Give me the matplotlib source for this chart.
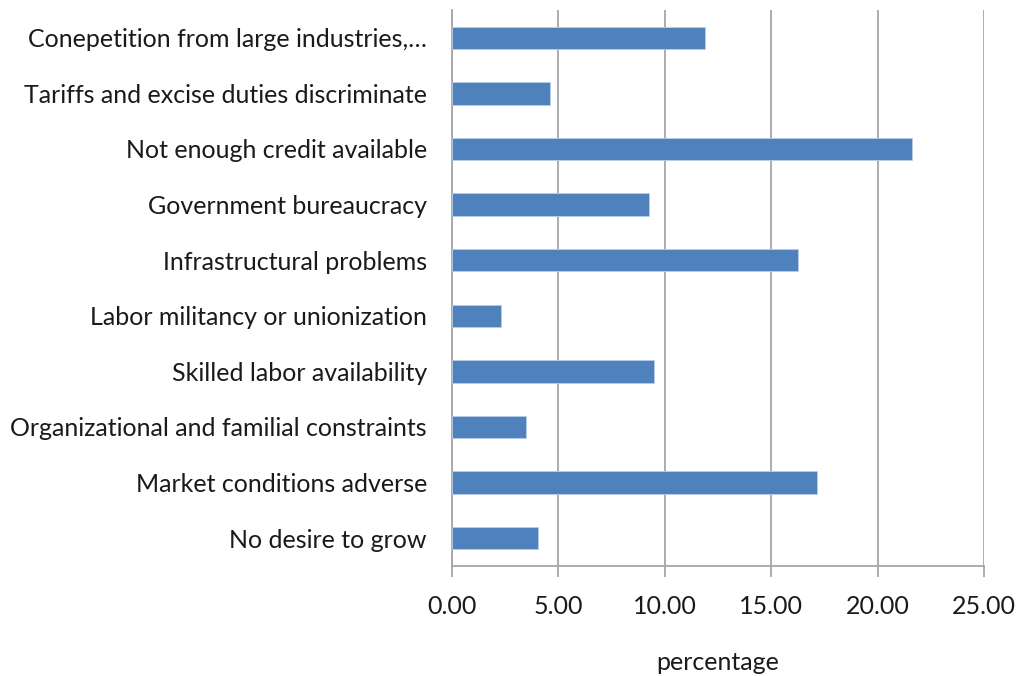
import matplotlib
matplotlib.use("Agg")
import matplotlib.pyplot as plt

categories = [
    "Conepetition from large industries,…",
    "Tariffs and excise duties discriminate",
    "Not enough credit available",
    "Government bureaucracy",
    "Infrastructural problems",
    "Labor militancy or unionization",
    "Skilled labor availability",
    "Organizational and familial constraints",
    "Market conditions adverse",
    "No desire to grow",
]
values = [11.89, 4.60, 21.64, 9.24, 16.24, 2.32, 9.47, 3.46, 17.14, 4.06]
xticks = [0, 5, 10, 15, 20, 25]
xticklabels = ["0.00", "5.00", "10.00", "15.00", "20.00", "25.00"]

plt.rcParams['font.family'] = ['Lato', 'DejaVu Sans']

fig = plt.figure(figsize=(10.2, 6.76), dpi=100)
ax = fig.add_axes([452/1020, 1 - 566/676, (984-452)/1020, (566-10)/676])

y = list(range(len(categories)))[::-1]
ax.barh(y, values, height=0.4, color="#4F81BD", edgecolor="#B9CDE5", linewidth=0.6, zorder=3)

ax.set_xlim(0, 25)
ax.set_ylim(-0.5, len(categories) - 0.5)
ax.set_yticks(y)
ax.set_yticklabels(categories, fontsize=18, color="#1a1a1a")
ax.set_xticks(xticks)
ax.set_xticklabels(xticklabels, fontsize=18, color="#1a1a1a")
ax.xaxis.grid(True, color="#A6A6A6", linewidth=1.3, zorder=0)
ax.tick_params(axis='y', length=0, pad=18)
ax.tick_params(axis='x', length=8, width=1.3, color="#A6A6A6", pad=13)
for s in ["top", "right"]:
    ax.spines[s].set_visible(False)
for s in ["left", "bottom"]:
    ax.spines[s].set_color("#A6A6A6")
    ax.spines[s].set_linewidth(1.3)
ax.set_xlabel("percentage", fontsize=18, color="#1a1a1a", labelpad=24)

fig.savefig("out.png", dpi=100)
